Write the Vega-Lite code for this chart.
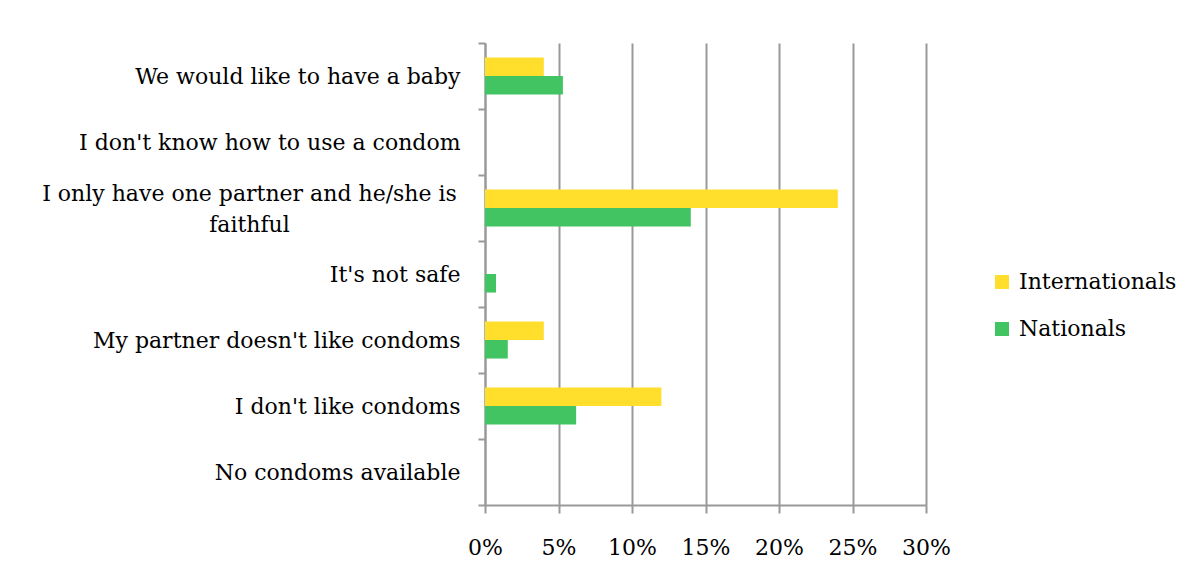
{
  "$schema": "https://vega.github.io/schema/vega-lite/v6.json",
  "width": 441,
  "height": 462,
  "autosize": {"type": "none"},
  "padding": {"left": 485, "top": 43, "right": 265, "bottom": 78},
  "background": "white",
  "config": {"view": {"stroke": null}, "font": "DejaVu Serif"},
  "data": {
    "values": [
      {"reason": "We would like to have a baby", "group": "Internationals", "pct": 0.04},
      {"reason": "We would like to have a baby", "group": "Nationals", "pct": 0.053},
      {"reason": "I don't know how to use a condom", "group": "Internationals", "pct": 0},
      {"reason": "I don't know how to use a condom", "group": "Nationals", "pct": 0},
      {"reason": "I only have one partner and he/she is faithful", "group": "Internationals", "pct": 0.24},
      {"reason": "I only have one partner and he/she is faithful", "group": "Nationals", "pct": 0.14},
      {"reason": "It's not safe", "group": "Internationals", "pct": 0},
      {"reason": "It's not safe", "group": "Nationals", "pct": 0.0075},
      {"reason": "My partner doesn't like condoms", "group": "Internationals", "pct": 0.04},
      {"reason": "My partner doesn't like condoms", "group": "Nationals", "pct": 0.0155},
      {"reason": "I don't like condoms", "group": "Internationals", "pct": 0.12},
      {"reason": "I don't like condoms", "group": "Nationals", "pct": 0.062},
      {"reason": "No condoms available", "group": "Internationals", "pct": 0},
      {"reason": "No condoms available", "group": "Nationals", "pct": 0}
    ]
  },
  "mark": {"type": "bar"},
  "encoding": {
    "y": {
      "field": "reason",
      "type": "nominal",
      "sort": null,
      "scale": {"paddingInner": 0, "paddingOuter": 0},
      "axis": {
        "title": null,
        "tickBand": "extent",
        "domainColor": "#999999",
        "domainWidth": 2,
        "tickColor": "#999999",
        "tickWidth": 2,
        "tickSize": 7,
        "labelFontSize": 22,
        "labelColor": "black",
        "labelLimit": 0,
        "labelLineHeight": 31,
        "labelAlign": {"condition": {"test": "datum.value == 'I only have one partner and he/she is faithful'", "value": "center"}, "value": "right"},
        "labelPadding": {"condition": {"test": "datum.value == 'I only have one partner and he/she is faithful'", "value": 229}, "value": 18},
        "labelOffset": {"condition": {"test": "datum.value == 'I only have one partner and he/she is faithful'", "value": -15}, "value": 0},
        "labelExpr": "datum.label == 'I only have one partner and he/she is faithful' ? ['I only have one partner and he/she is', 'faithful'] : datum.label"
      }
    },
    "yOffset": {"field": "group", "type": "nominal", "sort": ["Internationals", "Nationals"], "scale": {"paddingInner": 0, "paddingOuter": 0.78}},
    "x": {
      "field": "pct",
      "type": "quantitative",
      "scale": {"domain": [0, 0.3]},
      "axis": {
        "title": null,
        "values": [0, 0.05, 0.1, 0.15, 0.2, 0.25, 0.3],
        "format": ".0%",
        "labelFlush": false,
        "grid": true,
        "gridColor": "#999999",
        "gridWidth": 2,
        "domainColor": "#999999",
        "domainWidth": 2,
        "tickColor": "#999999",
        "tickWidth": 2,
        "tickSize": 8,
        "labelPadding": 24,
        "labelFontSize": 22,
        "labelColor": "black"
      }
    },
    "color": {
      "field": "group",
      "type": "nominal",
      "scale": {"domain": ["Internationals", "Nationals"], "range": ["#FFDE2C", "#43C462"]},
      "legend": {
        "title": null,
        "orient": "none",
        "legendX": 506,
        "legendY": 228,
        "symbolType": "square",
        "symbolSize": 196,
        "symbolStrokeWidth": 0,
        "labelFontSize": 22,
        "labelColor": "black",
        "rowPadding": 25,
        "labelOffset": 6
      }
    }
  }
}
